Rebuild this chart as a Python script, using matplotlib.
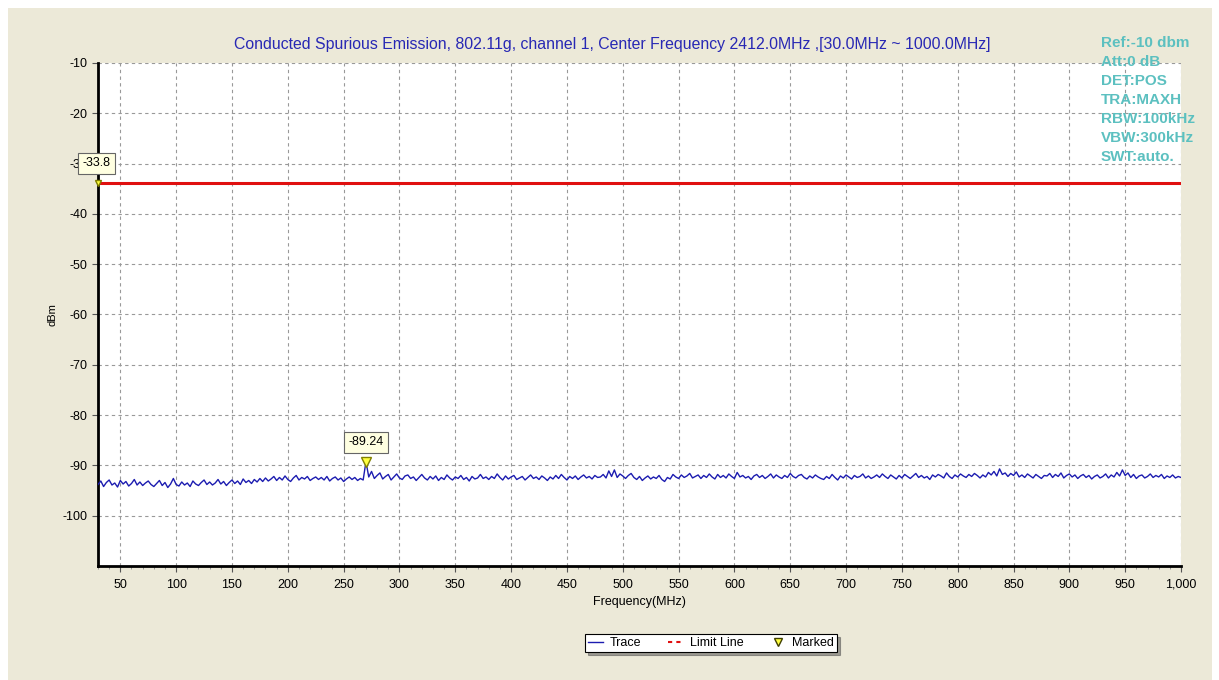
import matplotlib
matplotlib.use("Agg")
import matplotlib.pyplot as plt
import numpy as np
from matplotlib.patches import Rectangle
from matplotlib.lines import Line2D
from matplotlib.ticker import FuncFormatter, MultipleLocator

plt.rcParams['font.family'] = ['Liberation Sans', 'DejaVu Sans']
plt.rcParams['axes.unicode_minus'] = False

# 数据 (2.5 MHz 步进)
freq_start = 30
freq_step = 2.5
trace_db = [
    -93.8, -93.1, -94.2, -93.4, -92.9, -93.9, -93.5, -94.3, -93.0, -93.7, -93.2, -94.1, -93.6, -92.8, -93.9, -93.3, -94.0, -93.5, -93.1, -93.8,
    -94.2, -93.6, -93.0, -94.0, -93.4, -94.4, -93.7, -92.6, -93.8, -94.1, -93.3, -93.9, -93.5, -94.2, -93.1, -93.7, -94.0, -93.4, -92.9, -93.8,
    -93.3, -93.9, -93.5, -92.8, -93.7, -93.2, -94.0, -93.4, -92.9, -93.6, -93.1, -93.8, -92.7, -93.4, -93.0, -93.6, -92.8, -93.3, -92.6, -93.2,
    -92.5, -93.1, -92.7, -92.2, -93.0, -92.4, -92.9, -92.1, -92.8, -93.2, -92.5, -92.0, -92.9, -92.4, -92.7, -92.2, -93.0, -92.6, -92.3, -92.8,
    -92.4, -92.9, -92.2, -93.1, -92.6, -92.3, -92.9, -92.5, -93.2, -92.7, -92.3, -92.8, -92.4, -93.0, -92.6, -92.9, -89.24, -92.3, -91.2, -92.6,
    -92.0, -91.5, -92.7, -92.2, -91.8, -92.9, -92.3, -91.7, -92.5, -92.8, -92.1, -91.9, -92.6, -92.3, -93.0, -92.4, -91.8, -92.5, -92.9, -92.2,
    -92.7, -92.1, -93.0, -92.4, -92.8, -91.9, -92.5, -92.9, -92.3, -92.6, -92.0, -92.8, -92.4, -93.1, -92.2, -92.7, -92.5, -91.8, -92.6, -92.3,
    -92.8, -92.2, -92.6, -91.7, -92.4, -92.9, -92.1, -92.7, -92.3, -92.0, -92.8, -92.5, -92.2, -92.9, -92.4, -91.9, -92.6, -92.3, -92.8, -92.1,
    -92.5, -93.0, -92.3, -92.7, -92.0, -92.6, -91.8, -92.4, -92.9, -92.2, -92.6, -92.1, -92.8, -92.3, -91.9, -92.5, -92.2, -92.7, -92.0, -92.4,
    -92.3, -91.8, -92.5, -91.1, -92.2, -90.9, -92.4, -91.7, -92.1, -92.6, -92.0, -91.6, -92.4, -92.8, -92.2, -93.0, -92.5, -92.1, -92.7, -92.3,
    -92.6, -92.0, -92.8, -93.2, -92.4, -92.7, -91.8, -92.3, -92.6, -91.9, -92.4, -92.1, -91.6, -92.5, -92.2, -91.9, -92.6, -92.0, -92.4, -91.7,
    -92.3, -92.7, -91.8, -92.4, -92.0, -92.5, -91.7, -92.2, -92.6, -91.4, -92.3, -92.0, -92.5, -92.2, -92.8, -92.1, -91.8, -92.4, -92.0, -92.6,
    -92.2, -91.7, -92.5, -91.9, -92.3, -92.6, -92.0, -92.4, -91.6, -92.2, -92.5, -92.0, -91.8, -92.4, -92.7, -92.1, -92.5, -91.9, -92.3, -92.6,
    -92.8, -92.2, -92.6, -91.8, -92.4, -92.9, -92.1, -92.5, -91.9, -92.3, -92.7, -92.0, -92.4, -92.2, -91.7, -92.5, -92.1, -92.6, -92.3, -91.9,
    -92.4, -91.7, -92.2, -92.6, -91.9, -92.3, -92.7, -92.0, -92.5, -91.8, -92.2, -92.6, -92.1, -91.6, -92.4, -92.0, -92.5, -92.2, -92.8, -91.9,
    -92.3, -91.8, -92.1, -92.5, -91.5, -92.2, -92.6, -91.9, -92.3, -91.7, -92.1, -92.4, -91.8, -92.2, -91.6, -92.0, -92.5, -91.9, -92.3, -91.4,
    -91.9, -91.2, -92.1, -90.7, -91.8, -91.5, -92.2, -91.6, -92.0, -91.3, -92.3, -91.9, -92.4, -91.7, -92.1, -92.5, -91.8, -92.2, -92.6, -92.0,
    -92.1, -91.6, -92.4, -91.8, -92.2, -91.5, -92.5, -92.0, -91.7, -92.3, -91.9, -92.6, -92.1, -91.8, -92.4, -92.0, -92.7, -92.2, -91.9, -92.5,
    -92.2, -91.7, -92.5, -91.9, -92.3, -91.4, -92.1, -90.9, -92.0, -91.5, -92.4, -91.8, -92.6, -92.1, -91.9, -92.5, -92.2, -91.7, -92.4, -92.0,
    -92.3, -91.8, -92.6, -92.1, -92.4, -91.9, -92.5, -92.2, -92.4,
]
freq = freq_start + freq_step * np.arange(len(trace_db))
limit_db = -33.8
marker_freq = 270
marker_db = -89.24
title = ('Conducted Spurious Emission, 802.11g, channel 1, '
         'Center Frequency 2412.0MHz ,[30.0MHz ~ 1000.0MHz]')
settings = ['Ref:-10 dbm', 'Att:0 dB', 'DET:POS', 'TRA:MAXH',
            'RBW:100kHz', 'VBW:300kHz', 'SWT:auto.']

W, H = 1219, 680
fig = plt.figure(figsize=(W / 100, H / 100), dpi=100, facecolor='white')
fig.patches.append(Rectangle((8 / W, 0), (1212 - 8) / W, (H - 8) / H,
                             transform=fig.transFigure, facecolor='#ECE9D8',
                             edgecolor='none', zorder=-10))

ax = fig.add_axes([98 / W, 1 - 566 / H, (1181 - 98) / W, (566 - 63) / H])
ax.set_facecolor('white')
ax.set_xlim(30, 1000)
ax.set_ylim(-110, -10)
ax.set_xticks(np.arange(50, 1001, 50))
ax.xaxis.set_minor_locator(MultipleLocator(10))
ax.set_yticks(np.arange(-100, -9, 10))
ax.xaxis.set_major_formatter(FuncFormatter(lambda v, p: f'{v:,.0f}'))
ax.tick_params(labelsize=9, length=4, width=0.8, color='#555555')
ax.tick_params(axis='x', pad=5)
ax.tick_params(which='minor', length=2, width=0.6, color='#888888')
ax.grid(True, color='#999999', linestyle=(0, (3, 3)), linewidth=0.8)
for s in ['top', 'right']:
    ax.spines[s].set_visible(False)
for s in ['left', 'bottom']:
    ax.spines[s].set_linewidth(2)

ax.plot(freq, trace_db, color='#1C1CB0', linewidth=1.0, zorder=3)
ax.axhline(limit_db, color='#E01010', linewidth=2.2, zorder=4)
ax.plot([marker_freq], [marker_db], marker='v', color='#FFFF40',
        markeredgecolor='#808000', markersize=7, zorder=5)
ax.plot([30], [limit_db], marker='v', color='#FFFF40',
        markeredgecolor='#808000', markersize=4, zorder=5, clip_on=False)

box = dict(boxstyle='square,pad=0.35', facecolor='#FFFFE1', edgecolor='#666666', linewidth=0.8)
ax.annotate(f'{limit_db}', xy=(30, limit_db), xytext=(-1, 14), textcoords='offset points',
            ha='center', va='center', fontsize=9, bbox=box, zorder=6, annotation_clip=False)
ax.annotate(f'{marker_db}', xy=(marker_freq, marker_db), xytext=(0, 14),
            textcoords='offset points', ha='center', va='center', fontsize=9, bbox=box, zorder=6)

fig.text(612 / W, 1 - 45 / H, title, ha='center', va='center', fontsize=11.4, color='#2828B4')
for i, s in enumerate(settings):
    fig.text(1101 / W, 1 - (43 + 19 * i) / H, s, ha='left', va='center', fontsize=11,
             fontweight='bold', color='#5CC0C0')

ax.set_xlabel('Frequency(MHz)', fontsize=9, labelpad=4)
ax.set_ylabel('dBm', fontsize=8, labelpad=4)

handles = [Line2D([], [], color='#1C1CB0', linewidth=1),
           Line2D([], [], color='#E01010', linewidth=1.5, linestyle=(0, (2, 2))),
           Line2D([], [], color='#FFFF40', marker='v', markeredgecolor='#404000',
                  linestyle='none', markersize=6)]
leg = fig.legend(handles, ['Trace', 'Limit Line', 'Marked'], loc='center',
                 bbox_to_anchor=(711 / W, 1 - 643 / H), ncol=3, fontsize=9,
                 frameon=True, fancybox=False, shadow=True, edgecolor='black',
                 handlelength=1.2, handletextpad=0.5, columnspacing=2.2,
                 borderpad=0.25)
leg.get_frame().set_linewidth(0.8)

fig.savefig('out.png', dpi=100, facecolor=fig.get_facecolor())
